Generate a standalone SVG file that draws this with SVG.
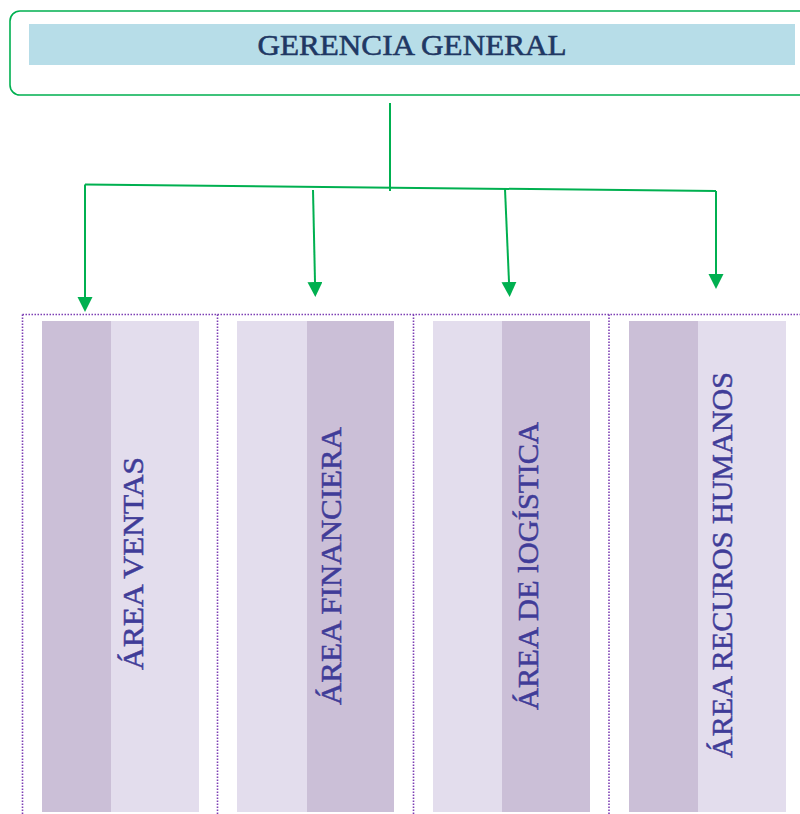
<svg xmlns="http://www.w3.org/2000/svg" width="800" height="814" viewBox="0 0 800 814">
  <defs>
    <marker id="arrow" markerUnits="userSpaceOnUse" markerWidth="16" markerHeight="16" refX="0" refY="7.5" orient="auto">
      <path d="M0,0 L15,7.5 L0,15 Z" fill="#00b050"/>
    </marker>
    <style>
      .frame { fill: none; stroke: #00b050; stroke-width: 1.6; }
      .banner { fill: #b7dde8; }
      .title { font-family: "Liberation Serif", "DejaVu Serif", serif; font-size: 30px; fill: #1f3864; stroke: #1f3864; stroke-width: 0.6; text-anchor: middle; }
      .link { fill: none; stroke: #00b050; stroke-width: 2; }
      .dots { fill: none; stroke: #7d3fb4; stroke-width: 1.6; stroke-dasharray: 1.5 1.5; }
      .dark { fill: #cbbfd7; }
      .light { fill: #e3dded; }
      .label { font-family: "Liberation Serif", "DejaVu Serif", serif; font-size: 30px; fill: #403c98; stroke: #403c98; stroke-width: 0.5; text-anchor: middle; }
    </style>
  </defs>

  <!-- top management box -->
  <g id="gerencia">
    <rect class="frame" x="10" y="11" width="810" height="84" rx="10"/>
    <rect class="banner" x="29" y="24" width="766" height="41"/>
    <text class="title" x="412" y="55" textLength="309" lengthAdjust="spacingAndGlyphs">GERENCIA GENERAL</text>
  </g>

  <!-- dotted container for the departments -->
  <g id="contenedor">
    <path class="dots" d="M22.5,314.5 H800 M22.5,314.5 V814 M217.5,314.5 V814 M413.5,314.5 V814 M609,314.5 V814"/>
  </g>

  <!-- connectors -->
  <g id="conectores">
    <path class="link" d="M390,103 V191"/>
    <path class="link" d="M85,184.5 L716,191"/>
    <path class="link" d="M85,184.5 V297" marker-end="url(#arrow)"/>
    <path class="link" d="M313,190 L315,282" marker-end="url(#arrow)"/>
    <path class="link" d="M505,189 L509,282" marker-end="url(#arrow)"/>
    <path class="link" d="M716,191 V274" marker-end="url(#arrow)"/>
  </g>

  <!-- departments -->
  <g id="area-ventas">
    <rect class="dark" x="42" y="321" width="69" height="491"/>
    <rect class="light" x="111" y="321" width="88" height="491"/>
    <text class="label" transform="translate(143,563.5) rotate(-90)" textLength="213" lengthAdjust="spacingAndGlyphs">ÁREA VENTAS</text>
  </g>

  <g id="area-financiera">
    <rect class="light" x="237" y="321" width="70" height="491"/>
    <rect class="dark" x="307" y="321" width="87" height="491"/>
    <text class="label" transform="translate(341,566) rotate(-90)" textLength="278" lengthAdjust="spacingAndGlyphs">ÁREA FINANCIERA</text>
  </g>

  <g id="area-logistica">
    <rect class="light" x="433" y="321" width="69" height="491"/>
    <rect class="dark" x="502" y="321" width="88" height="491"/>
    <text class="label" transform="translate(538,566) rotate(-90)" textLength="288" lengthAdjust="spacingAndGlyphs">ÁREA DE lOGÍSTICA</text>
  </g>

  <g id="area-rrhh">
    <rect class="dark" x="629" y="321" width="69" height="491"/>
    <rect class="light" x="698" y="321" width="88" height="491"/>
    <text class="label" transform="translate(732,565) rotate(-90)" textLength="386" lengthAdjust="spacingAndGlyphs">ÁREA RECUROS HUMANOS</text>
  </g>
</svg>
